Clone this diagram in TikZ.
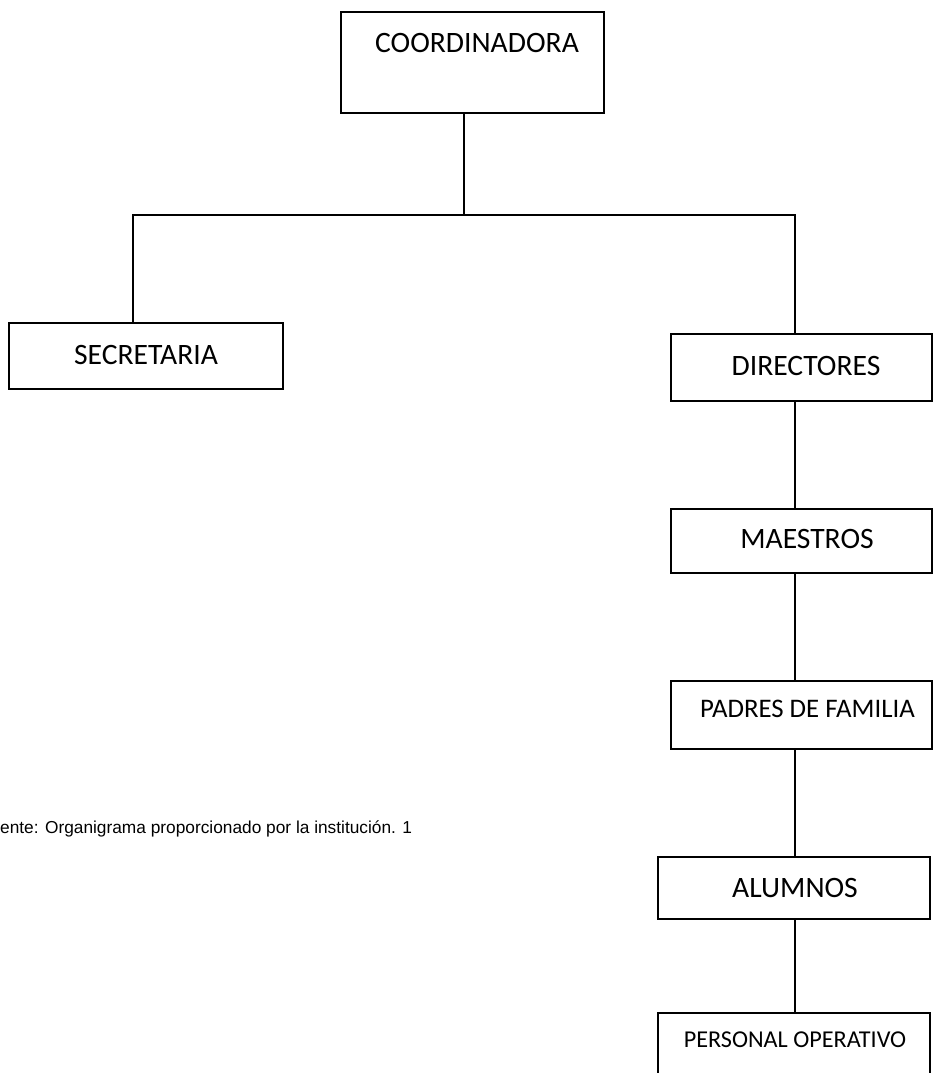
\documentclass[tikz,border=0pt]{standalone}
\usepackage{fontspec}
\setmainfont{Carlito}
\newfontfamily\arialfont{Liberation Sans}
\begin{document}
\begin{tikzpicture}[x=1pt,y=-1pt,
  box/.style={draw, line width=1.5pt, inner sep=0pt, outer sep=0pt},
  lbl/.style={inner sep=0pt, font=\fontsize{29.6}{32}\selectfont},
  conn/.style={line width=1.5pt}]
\clip (0,0) rectangle (933,1073);
\fill[white] (0,0) rectangle (933,1073);
% boxes
\node[box, minimum width=263pt, minimum height=101pt] (coord) at (472.5,62.5) {};
\node[box, minimum width=274pt, minimum height=66pt] (sec) at (146,356) {};
\node[box, minimum width=261pt, minimum height=67pt] (dir) at (801.5,367.5) {};
\node[box, minimum width=261pt, minimum height=64pt] (mae) at (801.5,541) {};
\node[box, minimum width=261pt, minimum height=68pt] (pad) at (801.5,715) {};
\node[box, minimum width=272pt, minimum height=62pt] (alu) at (794,888) {};
\node[box, minimum width=272pt, minimum height=87pt] (per) at (794,1056.5) {};
% labels
\node[lbl] (tcoord) at (477,43) {COORDINADORA};
\node[lbl] (tsec) at (146,355) {SECRETARIA};
\node[lbl] (tdir) at (806,366) {DIRECTORES};
\node[lbl] (tmae) at (807,539) {MAESTROS};
\node[lbl, font=\fontsize{26.8}{30}\selectfont] (tpad) at (807.5,709) {PADRES DE FAMILIA};
\node[lbl] (talu) at (795,888) {ALUMNOS};
\node[lbl, font=\fontsize{24.2}{28}\selectfont] (tper) at (795,1040) {PERSONAL OPERATIVO};
\node[inner sep=0pt, anchor=base west, font=\arialfont\fontsize{17.3}{20}\selectfont] (fuente) at (0,833) {ente: Organigrama proporcionado por la institución. 1};
% connectors
\coordinate (j) at (464,215);
\coordinate (jl) at (133,215);
\coordinate (jr) at (795,215);
\draw[conn] (coord.south -| j) -- (j);
\draw[conn] (sec.north -| jl) -- (jl) -- (jr) -- (dir.north -| jr);
\draw[conn] (dir.south -| jr) -- (mae.north -| jr);
\draw[conn] (mae.south -| jr) -- (pad.north -| jr);
\draw[conn] (pad.south -| jr) -- (alu.north -| jr);
\draw[conn] (alu.south -| jr) -- (per.north -| jr);
\end{tikzpicture}
\end{document}
